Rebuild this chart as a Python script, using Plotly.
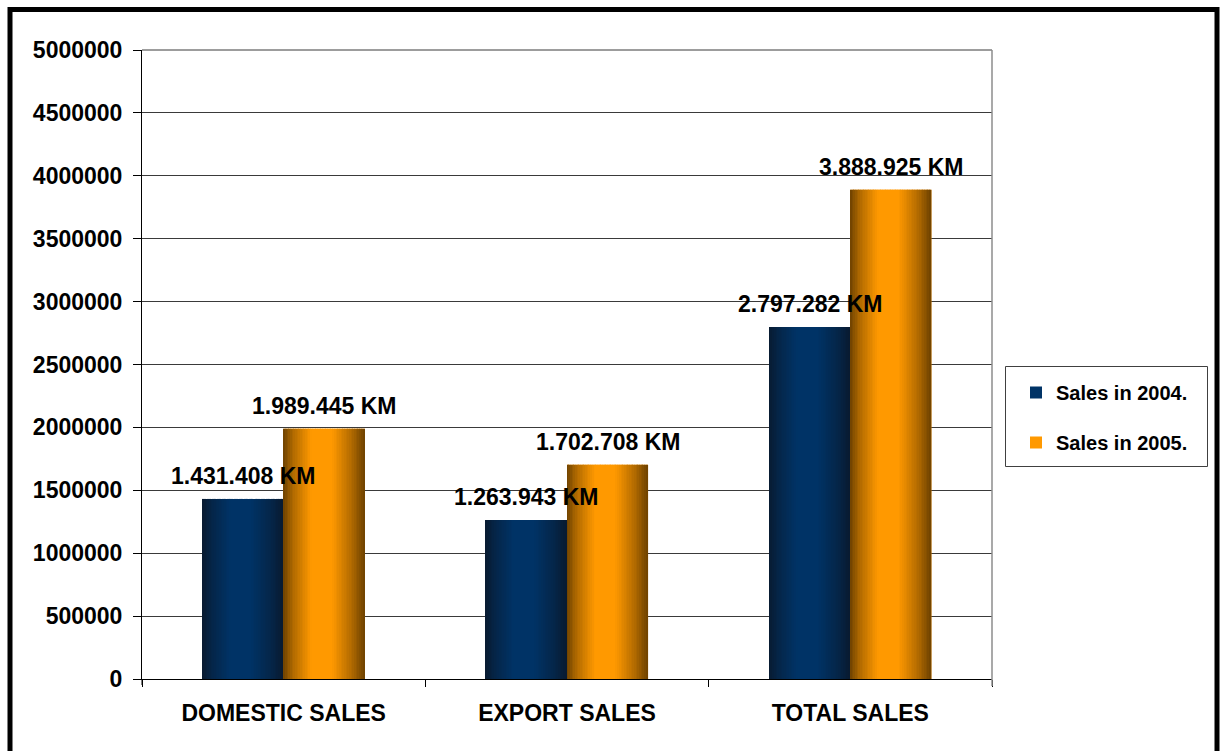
import plotly.graph_objects as go

# ---- data -------------------------------------------------------------
categories = ["DOMESTIC SALES", "EXPORT SALES", "TOTAL SALES"]
sales_2004 = [1431408, 1263943, 2797282]
sales_2005 = [1989445, 1702708, 3888925]
series_names = ["Sales in 2004.", "Sales in 2005."]
y_ticks = [0, 500000, 1000000, 1500000, 2000000, 2500000,
           3000000, 3500000, 4000000, 4500000, 5000000]

# ---- styling ----------------------------------------------------------
FONT = "Liberation Sans, Arial, sans-serif"
BAR_W = 0.286          # width of each bar in category units
N_SLICES = 48          # vertical strips used to shade each bar like a cylinder

# (dark edge colour, bright centre colour) per series
PALETTES = [((8, 26, 48), (0, 51, 102)),
            ((110, 66, 0), (255, 153, 0))]

# blend weight across the bar width: 0 = dark edge, 1 = bright centre
PROFILE = [(0.0, 0.0), (0.12, 0.45), (0.35, 1.0), (0.6, 1.0), (0.85, 0.45), (1.0, 0.0)]


def blend_weight(t):
    for (t0, w0), (t1, w1) in zip(PROFILE[:-1], PROFILE[1:]):
        if t0 <= t <= t1:
            return w0 + (w1 - w0) * (t - t0) / (t1 - t0)
    return 0.0


def shade(dark, bright, t):
    w = blend_weight(t)
    r, g, b = (round(d + (c - d) * w) for d, c in zip(dark, bright))
    return f"rgb({r},{g},{b})"


def fmt_km(v):
    return f"{v:,}".replace(",", ".") + " KM"


fig = go.Figure()

series_values = [sales_2004, sales_2005]
offsets = [-BAR_W, 0.0]

for s, (name, values, off, (dark, bright)) in enumerate(
        zip(series_names, series_values, offsets, PALETTES)):
    # base bar: carries the legend entry and hover
    fig.add_trace(go.Bar(
        x=categories, y=values, name=name,
        width=BAR_W, offset=off,
        marker=dict(color=f"rgb{bright}", line=dict(width=0)),
        legendgroup=name, showlegend=True,
        hovertemplate="%{x}<br>%{y:,}<extra>" + name + "</extra>",
    ))
    # shaded strips on top of the base bar
    sw = BAR_W / N_SLICES
    for i in range(N_SLICES):
        t = (i + 0.5) / N_SLICES
        fig.add_trace(go.Bar(
            x=categories, y=values,
            width=sw * 1.02, offset=off + i * sw,
            marker=dict(color=shade(dark, bright, t), line=dict(width=0)),
            legendgroup=name, showlegend=False, hoverinfo="skip",
        ))

# value labels above each bar
for values, off in zip(series_values, offsets):
    for idx, v in enumerate(values):
        fig.add_annotation(
            x=idx + off + BAR_W / 2, y=v, xref="x", yref="y",
            text=fmt_km(v), showarrow=False,
            yanchor="middle", yshift=23,
            font=dict(family=FONT, size=23, color="black", weight="bold"),
        )

# ---- frame shapes -----------------------------------------------------
PLOT_L, PLOT_R, PLOT_T, PLOT_B = 142, 992, 50, 679
PW, PH = PLOT_R - PLOT_L, PLOT_B - PLOT_T


def px_x(px):
    return (px - PLOT_L) / PW


def px_y(py):
    return (PLOT_B - py) / PH


shapes = [
    # heavy outer border
    dict(type="rect", xref="paper", yref="paper",
         x0=px_x(10), x1=px_x(1217), y0=px_y(9.5), y1=px_y(770),
         line=dict(color="black", width=5), fillcolor="rgba(0,0,0,0)", layer="above"),
    # top gridline of plot area
    dict(type="line", xref="paper", yref="paper",
         x0=0, x1=1, y0=1, y1=1,
         line=dict(color="#3a3a3a", width=1), layer="below"),
    # right edge of plot area
    dict(type="line", xref="paper", yref="paper",
         x0=1, x1=1, y0=px_y(686), y1=1,
         line=dict(color="#8c8c8c", width=1.5)),
    # left axis line running just below the baseline
    dict(type="line", xref="paper", yref="paper",
         x0=0, x1=0, y0=px_y(685), y1=0,
         line=dict(color="black", width=1)),
    # legend frame
    dict(type="rect", xref="paper", yref="paper",
         x0=px_x(1005.5), x1=px_x(1207.5), y0=px_y(466.5), y1=px_y(366.5),
         line=dict(color="#404040", width=1), fillcolor="white", layer="below"),
]

fig.update_layout(
    width=1220, height=751,
    margin=dict(l=PLOT_L, r=1220 - PLOT_R, t=PLOT_T, b=751 - PLOT_B),
    paper_bgcolor="white", plot_bgcolor="rgba(0,0,0,0)",
    barmode="overlay",
    font=dict(family=FONT, color="black"),
    shapes=shapes,
    showlegend=True,
    legend=dict(
        x=px_x(1016), y=px_y(373), xanchor="left", yanchor="top",
        bgcolor="rgba(0,0,0,0)", borderwidth=0,
        traceorder="grouped", tracegroupgap=21,
        font=dict(family=FONT, size=20, color="black", weight="bold"),
    ),
    xaxis=dict(
        type="category", categoryorder="array", categoryarray=categories,
        range=[-0.5, 2.5],
        tickson="boundaries", ticks="outside", ticklen=7,
        tickcolor="black", tickwidth=1,
        showline=True, linecolor="black", linewidth=1,
        showgrid=False, zeroline=False,
        ticklabelstandoff=13,
        tickfont=dict(family=FONT, size=23, color="black", weight="bold"),
    ),
    yaxis=dict(
        range=[0, 5000000], tickmode="array", tickvals=y_ticks,
        tickformat="d",
        ticks="outside", ticklen=8, tickcolor="black", tickwidth=1,
        showline=True, linecolor="black", linewidth=1,
        showgrid=True, gridcolor="#3a3a3a", gridwidth=1,
        zeroline=False,
        ticklabelstandoff=6,
        tickfont=dict(family=FONT, size=23, color="black", weight="bold"),
    ),
)

fig.write_html("out.html")
